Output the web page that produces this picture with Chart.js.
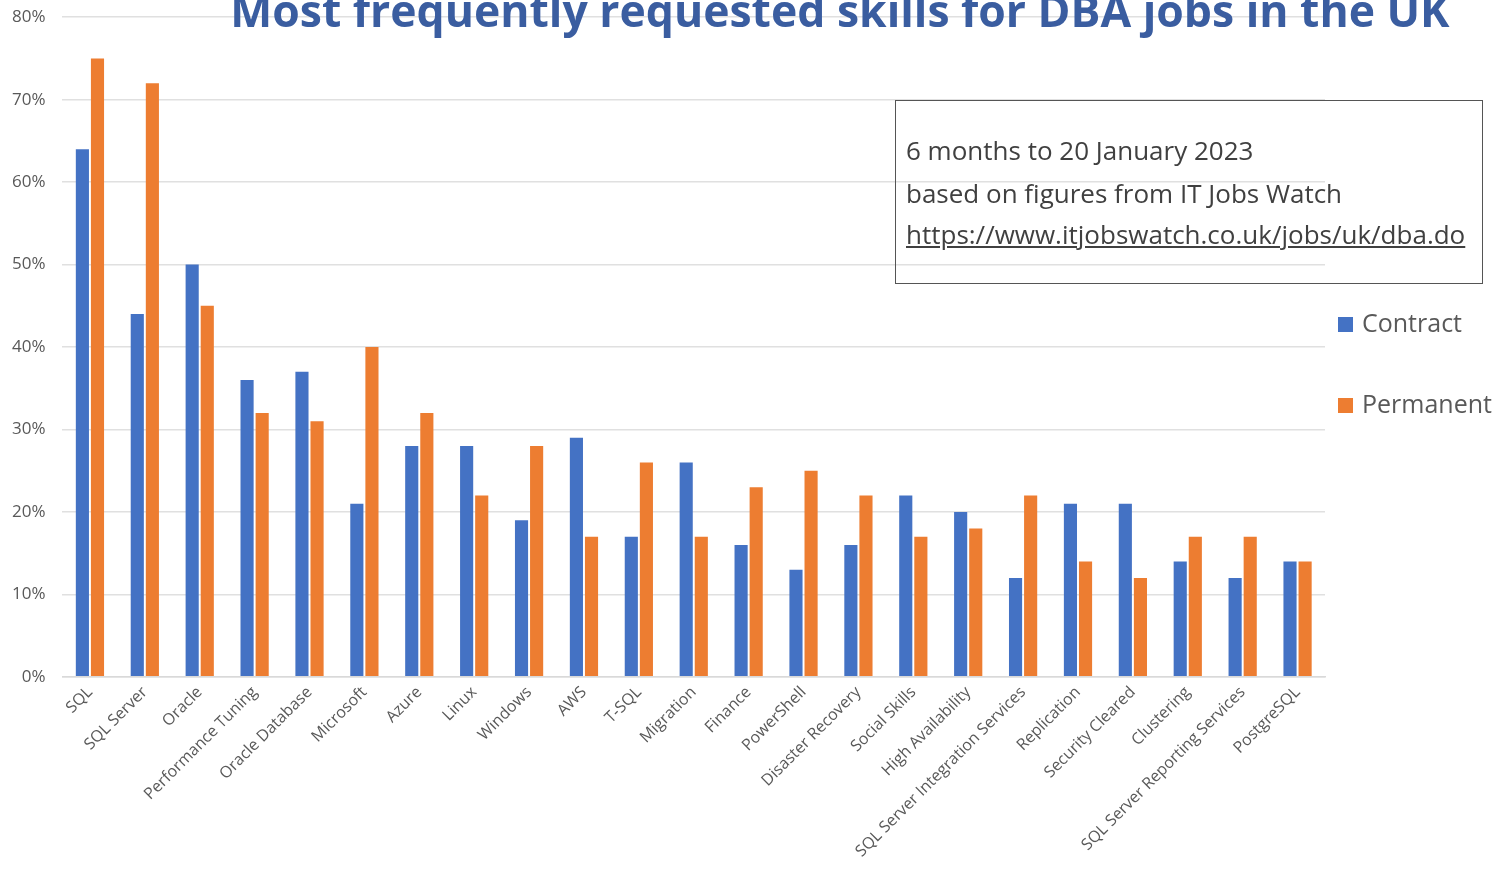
<!DOCTYPE html>
<html>
<head>
<meta charset="utf-8">
<script src="https://cdn.jsdelivr.net/npm/chart.js@4"></script>
<style>
  html, body { margin: 0; padding: 0; background: #fff; overflow: hidden; }
  #wrap { position: relative; width: 1504px; height: 872px; overflow: hidden; }
  #chart { position: absolute; left: -5px; top: -10px; }
  #title {
    position: absolute; left: 0; width: 1680px; top: -21px; text-align: center;
    font: bold 44.5px "Open Sans", sans-serif; color: #3A5DA0; white-space: nowrap;
  }
  #note {
    position: absolute; left: 895px; top: 100px; width: 588px; height: 184px;
    border: 1.5px solid #555; box-sizing: border-box;
    font: 26px "Open Sans", sans-serif; color: #404040;
  }
  #note div { position: absolute; left: 10px; white-space: nowrap; }
  .leg { position: absolute; left: 1338px; font: 25px "Open Sans", sans-serif; color: #595959; white-space: nowrap; }
  .leg span { display: inline-block; width: 15px; height: 15px; margin-right: 9px; vertical-align: 0px; }
</style>
</head>
<body>
<div id="wrap">
  <canvas id="chart" width="1504" height="882"></canvas>
  <div id="title">Most frequently requested skills for DBA jobs in the UK</div>
  <div id="note">
    <div style="top:31px">6 months to 20 January 2023</div>
    <div style="top:74px">based on figures from IT Jobs Watch</div>
    <div style="top:115px; text-decoration: underline;">https://www.itjobswatch.co.uk/jobs/uk/dba.do</div>
  </div>
  <div class="leg" id="leg0" style="top:305px"></div>
  <div class="leg" id="leg1" style="top:386px"></div>
</div>
<script>
// skills, in the order shown
const skills = [
  'SQL', 'SQL Server', 'Oracle', 'Performance Tuning', 'Oracle Database',
  'Microsoft', 'Azure', 'Linux', 'Windows', 'AWS', 'T-SQL', 'Migration',
  'Finance', 'PowerShell', 'Disaster Recovery', 'Social Skills',
  'High Availability', 'SQL Server Integration Services', 'Replication',
  'Security Cleared', 'Clustering', 'SQL Server Reporting Services', 'PostgreSQL'
];

// % of job ads mentioning the skill
const contract  = [64, 44, 50, 36, 37, 21, 28, 28, 19, 29, 17, 26, 16, 13, 16, 22, 20, 12, 21, 21, 14, 12, 14];
const permanent = [75, 72, 45, 32, 31, 40, 32, 22, 28, 17, 26, 17, 23, 25, 22, 17, 18, 22, 14, 12, 17, 17, 14];

const seriesNames = ['Contract', 'Permanent'];
const seriesColors = ['#4472C4', '#ED7D31'];

// html legend, same look as the excel one
seriesNames.forEach((name, i) => {
  const el = document.getElementById('leg' + i);
  el.innerHTML = '<span style="background:' + seriesColors[i] + '"></span>' + name;
});

// canvas is shifted up/left a bit so the plot sits where the excel one does
const ctx = document.getElementById('chart').getContext('2d');
const chart = new Chart(ctx, {
  type: 'bar',
  data: {
    labels: skills,
    datasets: [
      { label: seriesNames[0], data: contract, backgroundColor: seriesColors[0] },
      { label: seriesNames[1], data: permanent, backgroundColor: seriesColors[1] }
    ]
  },
  options: {
    responsive: false,
    animation: false,
    devicePixelRatio: 1,
    layout: { padding: { top: 0, right: 174, bottom: 5, left: 0 } },
    datasets: {
      bar: { categoryPercentage: 0.55, barPercentage: 0.87 }
    },
    plugins: {
      legend: { display: false },
      title: { display: false },
      tooltip: { enabled: false }
    },
    scales: {
      x: {
        grid: { display: false, drawTicks: false },
        border: { display: true, color: '#d9d9d9', width: 1.5 },
        ticks: {
          color: '#595959',
          font: { family: 'Open Sans', size: 16 },
          maxRotation: 45, minRotation: 45,
          autoSkip: false,
          padding: 6
        }
      },
      y: {
        min: 0, max: 80,
        grid: { color: '#e0e0e0', lineWidth: 1.5, drawTicks: false },
        border: { display: false },
        ticks: {
          stepSize: 10,
          color: '#595959',
          font: { family: 'Open Sans', size: 17 },
          padding: 17,
          callback: (v) => v + '%'
        }
      }
    }
  }
});
</script>
</body>
</html>
